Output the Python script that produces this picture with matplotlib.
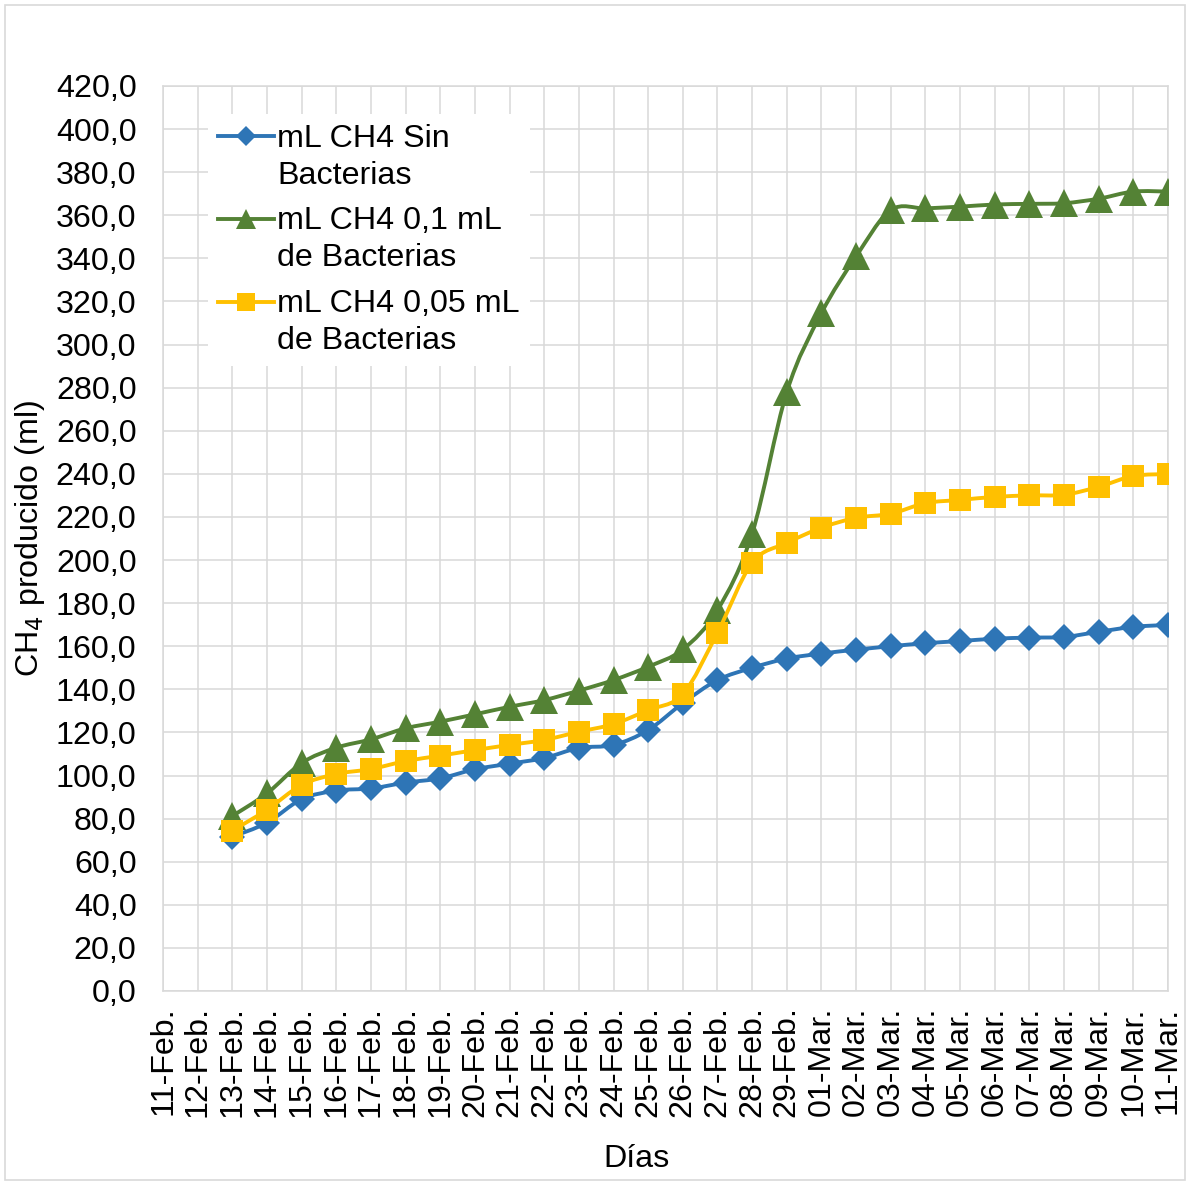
import matplotlib
matplotlib.use("Agg")
import matplotlib.pyplot as plt
import numpy as np
from matplotlib.path import Path
from matplotlib.patches import PathPatch, Rectangle
from matplotlib.lines import Line2D
from matplotlib.legend_handler import HandlerLine2D
from matplotlib.transforms import Affine2D
from matplotlib.ticker import MultipleLocator, FuncFormatter

plt.rcParams['font.family'] = ['Liberation Sans', 'DejaVu Sans']

# dias del ensayo
dias = ([f"{d}-Feb." for d in range(11, 30)] +
        [f"{d:02d}-Mar." for d in range(1, 12)])

# mediciones desde el 13-Feb
inicio = 2
sin_bacterias = [71.6, 78.1, 89.0, 93.0, 94.0, 96.7, 98.7, 102.9, 105.5, 108.1,
                 112.8, 114.2, 121.1, 133.6, 144.3, 150.0, 154.3, 156.6, 158.4,
                 160.0, 161.4, 162.4, 163.5, 164.0, 164.3, 166.7, 169.0, 169.9]
bact_01 = [81.2, 91.7, 105.8, 112.9, 116.8, 121.9, 125.0, 128.4, 131.9, 135.0,
           139.4, 144.3, 150.5, 158.5, 176.8, 212.3, 278.0, 314.6, 340.9,
           362.4, 363.2, 364.0, 365.0, 365.3, 365.6, 367.7, 371.0, 371.0]
bact_005 = [74.4, 84.1, 95.6, 100.7, 103.0, 106.7, 109.2, 111.8, 114.2, 116.5,
            120.3, 123.9, 130.4, 137.8, 166.3, 198.7, 207.9, 215.0, 219.6,
            221.5, 226.4, 227.9, 229.3, 230.0, 230.3, 234.0, 239.0, 239.9]

series = [
    ("mL CH4 Sin\nBacterias", sin_bacterias, "#2E75B6", "D", 13.5),
    ("mL CH4 0,1 mL\nde Bacterias", bact_01, "#548235", "^", 20),
    ("mL CH4 0,05 mL\nde Bacterias", bact_005, "#FFC000", "s", 16.5),
]

fs = 23.2
interlineado = 1.31


def curva_suave(x, y):
    # curva bezier que pasa por todos los puntos (linea suavizada)
    pts = np.column_stack([x, y]).astype(float)
    ext = np.vstack([pts[0], pts, pts[-1]])
    verts = [pts[0]]
    codes = [Path.MOVETO]
    for i in range(len(pts) - 1):
        p0, p1, p2, p3 = ext[i], ext[i + 1], ext[i + 2], ext[i + 3]
        verts += [p1 + (p2 - p0) / 6, p2 - (p3 - p1) / 6, p2]
        codes += [Path.CURVE4] * 3
    return Path(verts, codes)


class HandlerPrimeraLinea(HandlerLine2D):
    # coloca el simbolo a la altura de la primera linea del texto
    def create_artists(self, legend, orig_handle, xdescent, ydescent,
                       width, height, fontsize, trans):
        arts = super().create_artists(legend, orig_handle, xdescent, ydescent,
                                      width, height, fontsize, trans)
        sube = Affine2D().translate(0, fontsize * interlineado / 2)
        for a in arts:
            a.set_transform(sube + trans)
        return arts


fig = plt.figure(figsize=(11.89, 11.84), dpi=100)
ax = fig.add_axes([163 / 1189, 1 - 991 / 1184, 1005 / 1189, 905 / 1184])

handles = []
for nombre, vals, color, mk, ms in series:
    x = np.arange(inicio, inicio + len(vals))
    ax.add_patch(PathPatch(curva_suave(x, vals), fill=False, edgecolor=color,
                           lw=2.8, capstyle='round', joinstyle='round', zorder=3))
    ax.plot(x, vals, linestyle='none', marker=mk, markersize=ms,
            color=color, markeredgewidth=0, zorder=3)
    handles.append(Line2D([], [], color=color, lw=2.8, marker=mk,
                          markersize=ms * 0.75, markeredgewidth=0))

ax.set_xlim(0, len(dias) - 1)
ax.set_ylim(0, 420)
ax.set_xticks(range(len(dias)))
ax.set_xticklabels(dias, rotation=90, fontsize=fs)
ax.yaxis.set_major_locator(MultipleLocator(20))
ax.yaxis.set_major_formatter(FuncFormatter(lambda v, p: f"{v:.1f}".replace(".", ",")))
ax.tick_params(axis='y', labelsize=fs, length=0, pad=19)
ax.tick_params(axis='x', length=0, pad=11)
ax.grid(True, color='#D9D9D9', lw=1.1)
ax.set_axisbelow(True)
for s in ax.spines.values():
    s.set_color('#D9D9D9')
    s.set_linewidth(1.1)

ax.text((30 - 163) / 1005, 0.5, "CH$_4$ producido (ml)", rotation=90,
        transform=ax.transAxes, ha='center', va='center', fontsize=fs)
ax.text((637 - 163) / 1005, (991 - 1159) / 905, "Días",
        transform=ax.transAxes, ha='center', va='center', fontsize=fs)

leg = ax.legend(handles, [s[0] for s in series], loc='upper left',
                bbox_to_anchor=((208 - 163) / 1005, (991 - 114) / 905),
                borderaxespad=0, fontsize=fs, frameon=True, fancybox=False,
                handlelength=1.75, handletextpad=0.1, labelspacing=0.48,
                borderpad=0.3,
                handler_map={Line2D: HandlerPrimeraLinea()})
for t in leg.get_texts():
    t.set_linespacing(interlineado)
leg.get_frame().set_edgecolor('none')
leg.get_frame().set_facecolor('white')
leg.get_frame().set_alpha(1)

fig.patches.append(Rectangle((5 / 1189, 4 / 1184), 1180 / 1189, 1175 / 1184,
                             transform=fig.transFigure, fill=False,
                             edgecolor='#D9D9D9', lw=1.2))

fig.savefig("out.png", dpi=100)
